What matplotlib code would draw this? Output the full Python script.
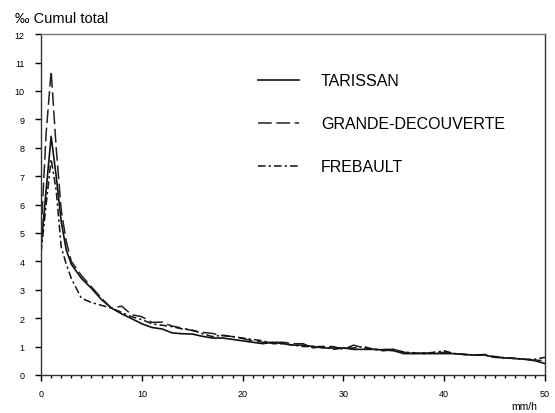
import numpy as np
import matplotlib
matplotlib.use("Agg")
import matplotlib.pyplot as plt
from matplotlib.ticker import MultipleLocator

plt.rcParams['font.family'] = ['Liberation Sans', 'DejaVu Sans']

# intensité (mm/h)
x = [0, 0.5, 1, 1.5, 2, 2.5, 3, 4, 5, 6, 7, 8, 9, 10,
     11, 12, 13, 14, 15, 16, 17, 18, 19, 20,
     21, 22, 23, 24, 25, 26, 27, 28, 29, 30,
     31, 32, 33, 34, 35, 36, 37, 38, 39, 40,
     41, 42, 43, 44, 45, 46, 47, 48, 49, 50]

tarissan = [4.5, 6.5, 8.4, 7.0, 5.4, 4.4, 3.9, 3.4, 3.05, 2.65, 2.35, 2.15, 1.98, 1.8,
            1.67, 1.62, 1.48, 1.45, 1.44, 1.36, 1.3, 1.3, 1.25, 1.2,
            1.15, 1.1, 1.15, 1.1, 1.05, 1.05, 1.0, 0.95, 0.95, 0.95,
            0.9, 0.9, 0.9, 0.88, 0.85, 0.75, 0.75, 0.75, 0.75, 0.75,
            0.75, 0.72, 0.7, 0.7, 0.62, 0.6, 0.58, 0.55, 0.5, 0.4]

grande_dec = [5.0, 8.5, 10.7, 8.0, 5.8, 4.7, 4.0, 3.5, 3.1, 2.7, 2.35, 2.42, 2.12, 2.05,
              1.85, 1.86, 1.72, 1.65, 1.56, 1.5, 1.46, 1.38, 1.35, 1.28,
              1.2, 1.15, 1.15, 1.15, 1.1, 1.1, 0.95, 1.0, 1.0, 0.9,
              1.05, 0.95, 0.9, 0.9, 0.9, 0.8, 0.75, 0.78, 0.75, 0.8,
              0.75, 0.72, 0.7, 0.72, 0.65, 0.6, 0.58, 0.55, 0.52, 0.5]

frebault = [4.3, 6.0, 7.6, 6.5, 4.5, 3.9, 3.4, 2.7, 2.55, 2.45, 2.35, 2.2, 2.05, 1.95,
            1.8, 1.75, 1.7, 1.62, 1.58, 1.45, 1.35, 1.4, 1.35, 1.3,
            1.25, 1.2, 1.1, 1.1, 1.05, 1.0, 1.0, 1.0, 0.9, 0.95,
            0.95, 1.0, 0.9, 0.85, 0.9, 0.8, 0.78, 0.75, 0.8, 0.85,
            0.75, 0.72, 0.7, 0.7, 0.63, 0.6, 0.58, 0.55, 0.55, 0.62]

fig = plt.figure(figsize=(5.55, 4.14), dpi=100)
ax = fig.add_axes([0.074, 0.092, 0.908, 0.823])

ax.plot(x, tarissan, color='#111111', lw=1.2, ls='-', label='TARISSAN')
ax.plot(x, grande_dec, color='#222222', lw=1.1, ls=(0, (9, 3)), label='GRANDE-DECOUVERTE')
ax.plot(x, frebault, color='#111111', lw=1.1, ls=(0, (5, 2, 1.5, 2)), label='FREBAULT')

ax.set_xlim(0, 50)
ax.set_ylim(0, 12)
ax.xaxis.set_major_locator(MultipleLocator(10))
ax.xaxis.set_minor_locator(MultipleLocator(1))
ax.yaxis.set_major_locator(MultipleLocator(1))
ax.tick_params(axis='both', which='major', labelsize=6.5, direction='out', length=4, width=1)
ax.tick_params(axis='x', which='minor', direction='out', length=2, width=1)
ax.tick_params(axis='y', pad=8)
ax.tick_params(axis='x', pad=6)

for s in ax.spines.values():
    s.set_linewidth(1.0)
    s.set_color('#333333')
ax.spines['top'].set_color('#777777')

fig.text(0.027, 0.955, '‰ Cumul total', fontsize=10.5, ha='left', va='center')
fig.text(0.945, 0.018, 'mm/h', fontsize=7.5, ha='center', va='center')

leg = ax.legend(loc='upper left', bbox_to_anchor=(0.43, 0.885), frameon=False,
                fontsize=11.5, handlelength=2.6, handletextpad=1.35, labelspacing=1.75,
                borderpad=0, borderaxespad=0)

fig.savefig('out.png', dpi=100)
